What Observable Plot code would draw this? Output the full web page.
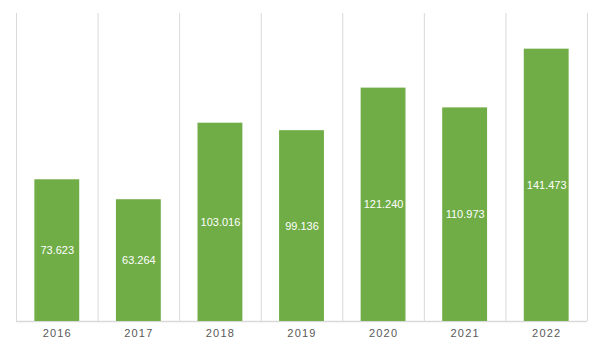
<!DOCTYPE html>
<html>
<head>
<meta charset="utf-8">
<script src="https://cdn.jsdelivr.net/npm/d3@7"></script>
<script src="https://cdn.jsdelivr.net/npm/@observablehq/plot@0.6"></script>
<style>
  body { margin: 0; background: #fff; }
  #chart svg { display: block; }
</style>
</head>
<body>
<div id="chart"></div>
<script>
const years = [2016, 2017, 2018, 2019, 2020, 2021, 2022];
const values = [73.623, 63.264, 103.016, 99.136, 121.240, 110.973, 141.473];
const labels = ["73.623", "63.264", "103.016", "99.136", "121.240", "110.973", "141.473"];

const data = years.map((y, i) => ({year: y, value: values[i], label: labels[i]}));
const boundaries = [years[0] - 0.5, ...years.map(y => y + 0.5)];
const half = 0.275;

const chart = Plot.plot({
  width: 600,
  height: 358,
  marginLeft: 16,
  marginRight: 13,
  marginTop: 13,
  marginBottom: 37,
  style: {fontFamily: "'Liberation Sans', Arial, sans-serif", fontSize: "11px", background: "#fff"},
  x: {type: "linear", domain: [years[0] - 0.5, years[years.length - 1] + 0.5], ticks: years, tickFormat: d => String(d), tickSize: 0, tickPadding: 8, label: null},
  y: {domain: [0, 160], axis: null},
  marks: [
    Plot.ruleX(boundaries, {x: d => d, y1: 0, y2: 160, stroke: "#d9d9d9", strokeWidth: 1}),
    Plot.ruleY([0], {stroke: "#d9d9d9", strokeWidth: 1.5}),
    Plot.rectY(data, {x1: d => d.year - half, x2: d => d.year + half, y1: 0, y2: "value", fill: "#70ad47"}),
    Plot.text(data, {x: "year", y: d => d.value / 2, text: "label", fill: "#ffffff", fontSize: 11}),
    Plot.axisX({ticks: years, tickFormat: d => String(d), tickSize: 0, tickPadding: 8, fill: "#595959", fontSize: 11, letterSpacing: "1.2px"}),
  ]
});
chart.querySelectorAll("[aria-label='x-axis tick label'] text").forEach(t => t.setAttribute("letter-spacing", "1.2px"));
document.getElementById("chart").appendChild(chart);
</script>
</body>
</html>
